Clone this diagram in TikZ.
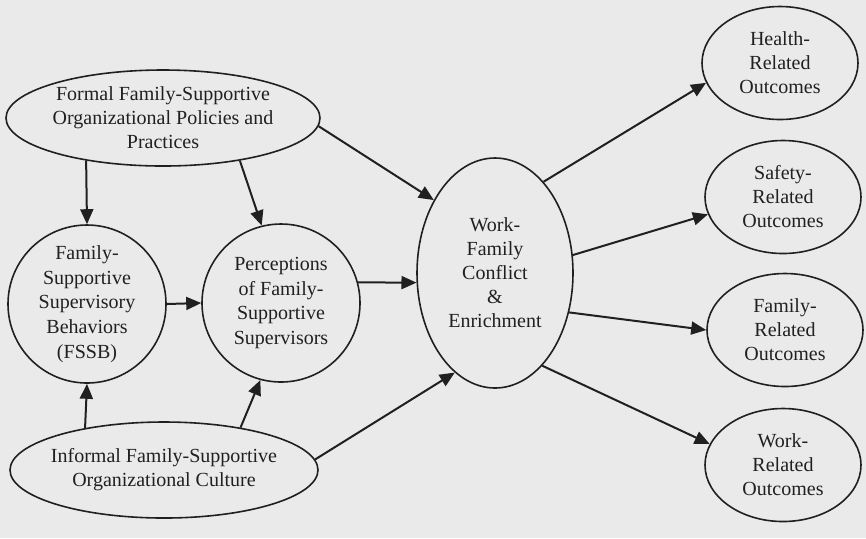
\documentclass[tikz,border=0pt]{standalone}
\usepackage{fontspec}
\setmainfont{Liberation Serif}
\usetikzlibrary{shapes.geometric,arrows.meta}
\definecolor{ink}{RGB}{32,32,32}
\definecolor{paper}{RGB}{234,234,234}

\begin{document}
\begin{tikzpicture}[x=0.5pt,y=-0.5pt,
	oval/.style={draw=ink,line width=0.8pt,ellipse,inner sep=0pt,align=center,text=ink,font=\fontsize{10}{12}\selectfont},
	circ/.style={draw=ink,line width=0.8pt,circle,inner sep=0pt,minimum size=79pt,align=center,text=ink,font=\fontsize{10}{12.3}\selectfont},
	arr/.style={draw=ink,line width=1pt,-{Triangle[length=7.5pt,width=6.5pt]}}]
	\fill[paper] (0,0) rectangle (866,538);
	\node[oval,minimum width=157pt,minimum height=48pt,inner xsep=-12pt] (formal) at (163,118) {Formal Family-Supportive\\Organizational Policies and\\Practices};
	\node[circ] (fssb) at (87,304) {Family-\\Supportive\\Supervisory\\Behaviors\\(FSSB)};
	\node[circ] (percep) at (281,303) {Perceptions\\of Family-\\Supportive\\Supervisors};
	\node[oval,minimum width=154pt,minimum height=48pt,inner xsep=-12pt] (informal) at (164,470) {Informal Family-Supportive\\Organizational Culture};
	\node[oval,minimum width=78pt,minimum height=115pt] (wf) at (495,273) {Work-\\Family\\Conflict\\\&\\Enrichment};
	\node[oval,minimum width=78pt,minimum height=56.5pt] (health) at (780,63) {Health-\\Related\\Outcomes};
	\node[oval,minimum width=78pt,minimum height=56.5pt] (safety) at (783,197) {Safety-\\Related\\Outcomes};
	\node[oval,minimum width=78pt,minimum height=56.5pt] (family) at (785,330) {Family-\\Related\\Outcomes};
	\node[oval,minimum width=78pt,minimum height=56.5pt] (work) at (783,465) {Work-\\Related\\Outcomes};
	\draw[arr] (formal.209) -- (fssb.north);
	\draw[arr] (formal.331) -- (percep.104);
	\draw[arr] (formal.357) -- (wf.130);
	\draw[arr] (informal.152) -- (fssb.south);
	\draw[arr] (informal.29) -- (percep.255);
	\draw[arr] (informal.4) -- (wf.248);
	\draw[arr] (fssb.east) -- (percep.west);
	\draw[arr] (percep.15) -- (wf.187);
	\draw[arr] (wf.62) -- (health.195);
	\draw[arr] (wf.13) -- (safety.193);
	\draw[arr] (wf.332) -- (family.west);
	\draw[arr] (wf.297) -- (work.164);
\end{tikzpicture}
\end{document}
